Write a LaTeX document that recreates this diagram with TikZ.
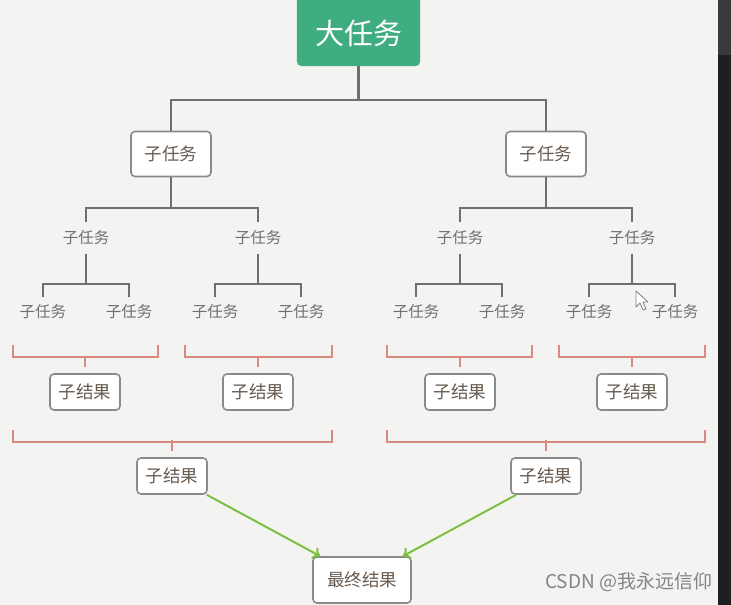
\documentclass[tikz,border=0pt]{standalone}
\usepackage{fontspec}
\setmainfont{Noto Sans CJK SC}
\usetikzlibrary{arrows.meta}
\definecolor{bg}{HTML}{F3F3F1}
\definecolor{topgreen}{HTML}{3FAD80}
\definecolor{boxline}{HTML}{8A8A8A}
\definecolor{txtbrown}{HTML}{675A4E}
\definecolor{txtgray}{HTML}{707070}
\definecolor{linegray}{HTML}{6F6F6F}
\definecolor{bracketred}{HTML}{D98A80}
\definecolor{arrowgreen}{HTML}{7CC043}
\definecolor{darkstrip}{HTML}{1F1F21}
\definecolor{darkstriptop}{HTML}{3A3A3C}
\definecolor{marktext}{HTML}{858585}
\begin{document}
\begin{tikzpicture}[x=1pt,y=-1pt,
  box/.style={draw=boxline, line width=1.6pt, fill=white, rounded corners=4pt, text=txtbrown, font=\fontsize{17.5}{17.5}\selectfont, inner sep=0pt},
  taskbox/.style={box, minimum width=80pt, minimum height=45pt},
  resbox/.style={box, minimum width=70pt, minimum height=36pt},
  plain/.style={text=txtgray, font=\fontsize{15.5}{15.5}\selectfont, inner sep=0pt, minimum width=50pt},
  lvthree/.style={plain, minimum height=31pt},
  lvfour/.style={plain, minimum height=30pt},
  treetop/.style={draw=linegray, line width=2.4pt},
  tree/.style={draw=linegray, line width=1.8pt},
  brk/.style={draw=bracketred, line width=1.5pt},
  flow/.style={draw=arrowgreen, line width=2pt, -{To[length=7pt,width=13pt]}}]
% canvas
\fill[bg] (0,0) rectangle (731,605);
\useasboundingbox (0,0) rectangle (731,605);
\fill[darkstrip] (718,0) rectangle (731,605);
\fill[darkstriptop] (718,0) rectangle (731,55);

% top node
\node (top) at (358.5,33) [minimum width=123pt, minimum height=66pt, inner sep=0pt] {};
\fill[topgreen, rounded corners=5pt] ([yshift=10pt]top.north west) rectangle (top.south east);
\node (toptext) at (top.center) [text=white, font=\fontsize{29}{29}\selectfont, inner sep=0pt] {大任务};

% level 2
\node[taskbox] (s1) at (171,154) {子任务};
\node[taskbox] (s2) at (546,154) {子任务};
\draw[treetop] (top.south) -- ++(0,34) -| (s1.north);
\draw[treetop] (top.south) -- ++(0,34) -| (s2.north);

% level 3
\node[lvthree] (t1) at (86,238) {子任务};
\node[lvthree] (t2) at (258,238) {子任务};
\node[lvthree] (t3) at (460,238) {子任务};
\node[lvthree] (t4) at (632,238) {子任务};
\draw[tree] (s1.south) -- ++(0,31) -| (t1.north);
\draw[tree] (s1.south) -- ++(0,31) -| (t2.north);
\draw[tree] (s2.south) -- ++(0,31) -| (t3.north);
\draw[tree] (s2.south) -- ++(0,31) -| (t4.north);

% level 4
\node[lvfour] (u1) at (43,312) {子任务};
\node[lvfour] (u2) at (129,312) {子任务};
\node[lvfour] (u3) at (215,312) {子任务};
\node[lvfour] (u4) at (301,312) {子任务};
\node[lvfour] (u5) at (416,312) {子任务};
\node[lvfour] (u6) at (502,312) {子任务};
\node[lvfour] (u7) at (589,312) {子任务};
\node[lvfour] (u8) at (675,312) {子任务};
\draw[tree] (t1.south) -- ++(0,30) -| (u1.north);
\draw[tree] (t1.south) -- ++(0,30) -| (u2.north);
\draw[tree] (t2.south) -- ++(0,30) -| (u3.north);
\draw[tree] (t2.south) -- ++(0,30) -| (u4.north);
\draw[tree] (t3.south) -- ++(0,30) -| (u5.north);
\draw[tree] (t3.south) -- ++(0,30) -| (u6.north);
\draw[tree] (t4.south) -- ++(0,30) -| (u7.north);
\draw[tree] (t4.south) -- ++(0,30) -| (u8.north);

% first results
\node[resbox] (r1) at (85,392) {子结果};
\node[resbox] (r2) at (258,392) {子结果};
\node[resbox] (r3) at (460,392) {子结果};
\node[resbox] (r4) at (632,392) {子结果};
\coordinate (a1) at (13,345);  \coordinate (b1) at (158,345);
\coordinate (a2) at (185,345); \coordinate (b2) at (332,345);
\coordinate (a3) at (387,345); \coordinate (b3) at (532,345);
\coordinate (a4) at (559,345); \coordinate (b4) at (705,345);
\draw[brk] (a1) -- ++(0,12) -| (b1);
\draw[brk] (a2) -- ++(0,12) -| (b2);
\draw[brk] (a3) -- ++(0,12) -| (b3);
\draw[brk] (a4) -- ++(0,12) -| (b4);
\draw[brk] ([yshift=6pt]r1.north) -- ++(0,-11);
\draw[brk] ([yshift=6pt]r2.north) -- ++(0,-11);
\draw[brk] ([yshift=6pt]r3.north) -- ++(0,-11);
\draw[brk] ([yshift=6pt]r4.north) -- ++(0,-11);

% second results
\node[resbox] (q1) at (172,476) {子结果};
\node[resbox] (q2) at (546,476) {子结果};
\coordinate (c1) at (13,430);  \coordinate (d1) at (332,430);
\coordinate (c2) at (387,430); \coordinate (d2) at (705,430);
\draw[brk] (c1) -- ++(0,12) -| (d1);
\draw[brk] (c2) -- ++(0,12) -| (d2);
\draw[brk] ([yshift=6pt]q1.north) -- ++(0,-11);
\draw[brk] ([yshift=6pt]q2.north) -- ++(0,-11);

% final
\node[box, minimum width=98pt, minimum height=46pt] (f) at (362,580) {最终结果};
\draw[flow] ([xshift=-1pt]q1.south east) -- ([xshift=8pt]f.north west);
\draw[flow] ([xshift=6pt]q2.south west) -- ([xshift=-9pt]f.north east);

% watermark
\node (wm) at (545,582) [anchor=west, inner sep=0pt, text=marktext, font=\fontsize{19}{19}\selectfont] {CSDN @我永远信仰};

% mouse pointer
\draw[fill=white, draw=gray, line width=0.8pt, line join=round] (636,291) -- (636,307) -- (640,303) -- (643,310) -- (646,309) -- (643,302) -- (648,302) -- cycle;
\end{tikzpicture}
\end{document}
